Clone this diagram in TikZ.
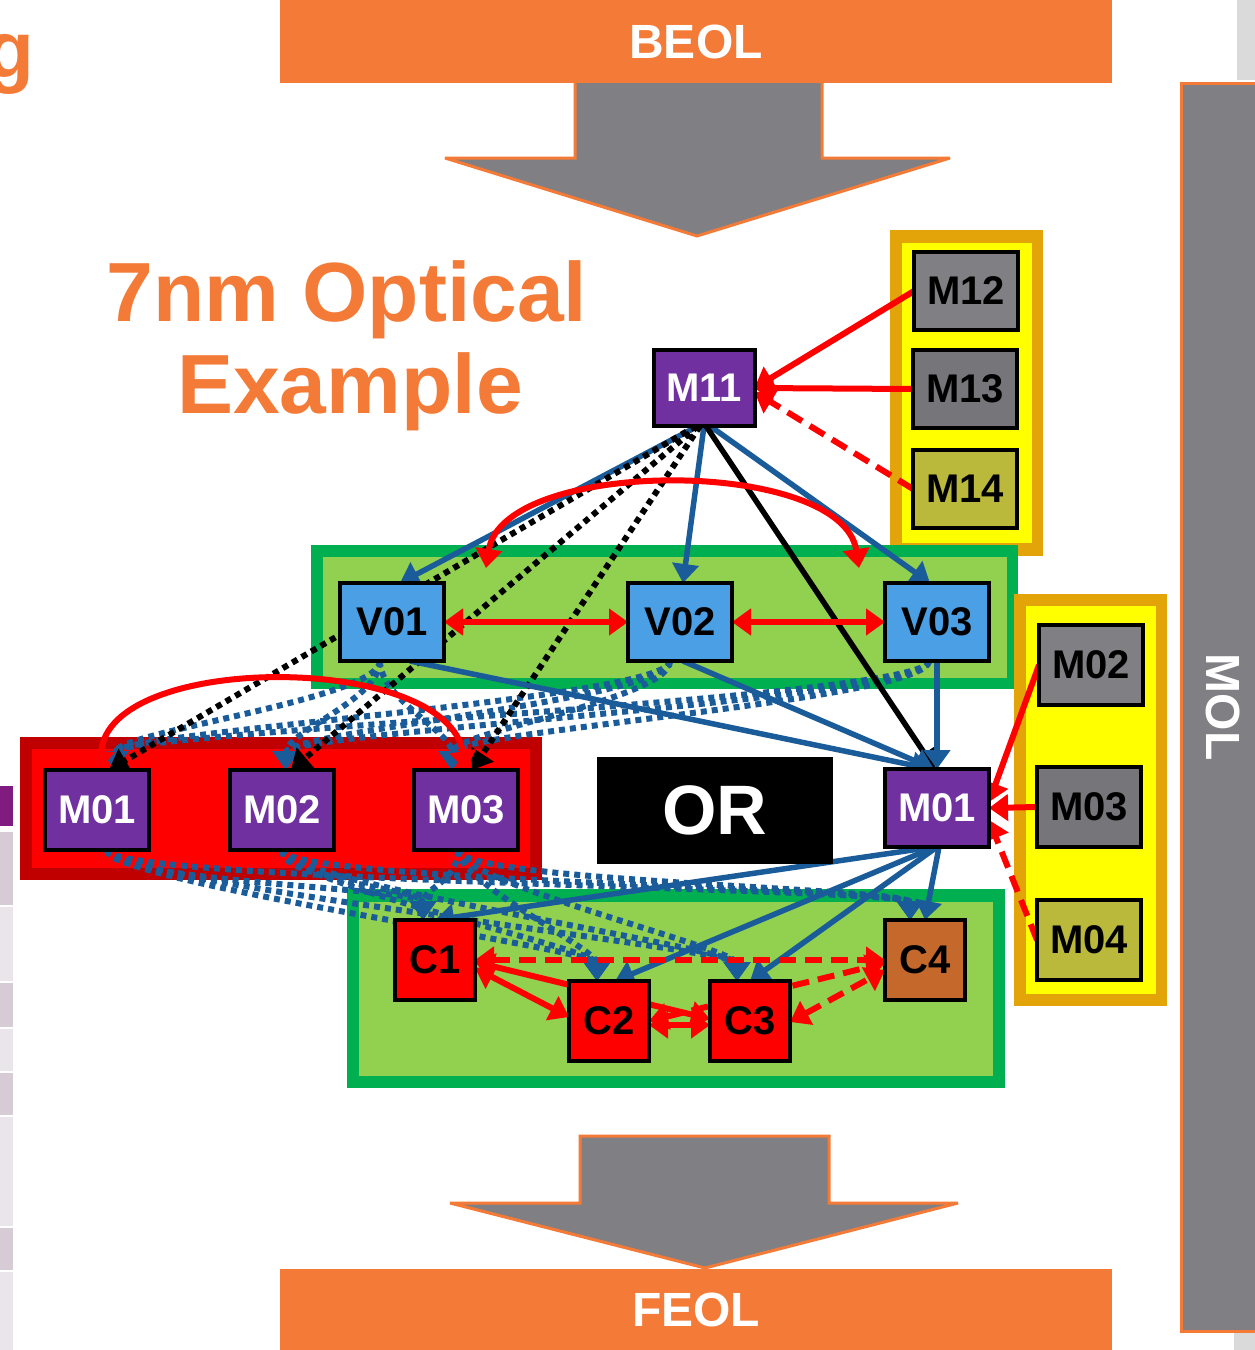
\documentclass[tikz,border=0pt]{standalone}
\usepackage{fontspec}
\usepackage{graphicx}
\setmainfont{Liberation Sans}
\usetikzlibrary{arrows.meta}
\definecolor{orng}{HTML}{F47B37}
\definecolor{arrgray}{HTML}{807F84}
\definecolor{purp}{HTML}{7030A0}
\definecolor{vblue}{HTML}{4A9FE5}
\definecolor{mgray}{HTML}{807F83}
\definecolor{mgrayd}{HTML}{76757A}
\definecolor{olive}{HTML}{BBB93B}
\definecolor{ylw}{HTML}{FFFF00}
\definecolor{gold}{HTML}{E3A40A}
\definecolor{gout}{HTML}{00B050}
\definecolor{gin}{HTML}{92D050}
\definecolor{rout}{HTML}{C00000}
\definecolor{rin}{HTML}{FF0000}
\definecolor{cbrown}{HTML}{C5682B}
\definecolor{lblue}{HTML}{1A5C99}
\definecolor{slidepurp}{HTML}{801C80}
\definecolor{celld}{HTML}{D7CCD6}
\definecolor{celll}{HTML}{EAE5EB}
\definecolor{edgegray}{HTML}{DADADA}
\pgfdeclarelayer{bg}\pgfdeclarelayer{fg}\pgfsetlayers{bg,main,fg}
\begin{document}
\begin{tikzpicture}[x=1pt,y=-1pt,
  >={Triangle[length=19pt,width=26pt]},
  lbl/.style={font=\fontsize{40}{40}\selectfont\bfseries, inner sep=0pt, outer sep=0pt},
  mbox/.style={lbl, draw=black, line width=4pt, minimum width=104pt, minimum height=78pt},
  cbox/.style={lbl, draw=black, line width=4pt, minimum width=80pt, minimum height=80pt},
  bartext/.style={font=\fontsize{48}{48}\selectfont\bfseries, text=white, inner sep=0pt},
  bigarrow/.style={draw=orng, line width=3pt, fill=arrgray, line join=miter, miter limit=4},
  blu/.style={draw=lblue, line width=5.5pt, ->},
  blkl/.style={draw=black, line width=5.5pt, ->},
  redl/.style={draw=rin, line width=6pt, ->},
  reddash/.style={draw=rin, line width=6pt, dash pattern=on 17pt off 9pt},
  bdot/.style={draw=lblue, line width=6pt, dash pattern=on 6pt off 5pt, ->},
  kdot/.style={draw=black, line width=6pt, dash pattern=on 6pt off 5pt, ->}]
\useasboundingbox (0,0) rectangle (1255,1350);

\begin{pgfonlayer}{bg}
  % cut-off slide parts at the edges
  \fill[slidepurp] (0,786) rectangle (13,826);
  \fill[celld] (0,832) rectangle (13,905);
  \fill[celll] (0,907) rectangle (13,981);
  \fill[celld] (0,983) rectangle (13,1027);
  \fill[celll] (0,1029) rectangle (13,1071);
  \fill[celld] (0,1073) rectangle (13,1115);
  \fill[celll] (0,1117) rectangle (13,1226);
  \fill[celld] (0,1228) rectangle (13,1270);
  \fill[celll] (0,1272) rectangle (13,1350);
  \fill[edgegray] (1237,0) rectangle (1255,80);
  \fill[edgegray] (1234,1333) rectangle (1255,1350);
  % MOL bar
  \draw[orng, line width=3pt, fill=arrgray] (1181.5,83.5) rectangle (1275,1331);
  \node[bartext, rotate=-90] (MOL) at (1223,707) {MOL};
  % big arrows
  \draw[bigarrow] (575,80) -- (822,80) -- (822,158) -- (950,158) -- (697,236) -- (445,158) -- (575,158) -- cycle;
  \draw[bigarrow] (580,1136) -- (829,1136) -- (829,1203) -- (958,1203) -- (705,1268) -- (450,1203) -- (580,1203) -- cycle;
  % bars
  \node[bartext, fill=orng, minimum width=832pt, minimum height=83pt] (BEOL) at (696,41.5) {BEOL};
  \node[bartext, fill=orng, minimum width=832pt, minimum height=82pt] (FEOL) at (696,1310) {FEOL};
  % containers
  \fill[gold] (890,230) rectangle (1043,556);
  \fill[ylw] (902,243) rectangle (1032,543);
  \fill[gout] (311,545) rectangle (1018,689);
  \fill[gin] (323,557) rectangle (1007,678);
  \fill[rout] (20,737) rectangle (542,880);
  \fill[rin] (32,749) rectangle (530,868);
  \fill[gold] (1014,594) rectangle (1167,1006);
  \fill[ylw] (1026,606) rectangle (1156,994);
  \fill[gout] (347,889) rectangle (1005,1088);
  \fill[gin] (359,902) rectangle (993,1076);
  % titles
  \node[text=orng, font=\fontsize{80}{80}\selectfont\bfseries, anchor=base east, inner sep=0pt] (gtxt) at (35,77) {g};
  \node[text=orng, font=\fontsize{84}{84}\selectfont\bfseries, anchor=base, inner sep=0pt] (T1) at (347,321) {7nm Optical};
  \node[text=orng, font=\fontsize{84}{84}\selectfont\bfseries, anchor=base, inner sep=0pt] (T2) at (350,413) {Example};
\end{pgfonlayer}

\begin{pgfonlayer}{fg}
  \node[mbox, fill=purp, text=white, minimum width=101pt, minimum height=76pt] (M11) at (704,388) {M11};
  \node[mbox, fill=mgray] (M12) at (966,291) {M12};
  \node[mbox, fill=mgrayd] (M13) at (965,389) {M13};
  \node[mbox, fill=olive] (M14) at (965,489) {M14};
  \node[mbox, fill=vblue] (V01) at (392,622) {V01};
  \node[mbox, fill=vblue] (V02) at (680,622) {V02};
  \node[mbox, fill=vblue] (V03) at (937,622) {V03};
  \node[mbox, fill=purp, text=white, minimum height=80pt] (M01l) at (97,810) {M01};
  \node[mbox, fill=purp, text=white, minimum height=80pt] (M02l) at (282,810) {M02};
  \node[mbox, fill=purp, text=white, minimum height=80pt] (M03l) at (466,810) {M03};
  \node[mbox, fill=purp, text=white] (M01r) at (937,808) {M01};
  \node[mbox, fill=mgray, minimum height=80pt] (M02r) at (1091,665) {M02};
  \node[mbox, fill=mgrayd, minimum height=80pt] (M03r) at (1089,807) {M03};
  \node[mbox, fill=olive, minimum height=80pt] (M04r) at (1089,940) {M04};
  \node[cbox, fill=rin] (C1) at (435,960) {C1};
  \node[cbox, fill=rin] (C2) at (609,1021) {C2};
  \node[cbox, fill=rin] (C3) at (750,1021) {C3};
  \node[cbox, fill=cbrown] (C4) at (925,960) {C4};
  \node[fill=black, text=white, minimum width=236pt, minimum height=107pt, inner sep=0pt,
        font=\fontsize{70}{70}\selectfont\bfseries] (OR) at (715,810.5) {OR};
\end{pgfonlayer}

% dotted blue V -> left M
\foreach \s/\a in {V01/-12,V02/-10,V03/-8}{
  \foreach \t/\b in {M01l/18,M02l/4,M03l/-14}{
    \draw[bdot] ([xshift=\a pt]\s.south) .. controls +(0,38) and +(0,-38) .. ([xshift=\b pt]\t.north);
  }}
% dotted blue left M -> C
\foreach \s/\a in {M01l/10,M02l/0,M03l/-8}{
  \foreach \t/\b in {C1/-12,C2/-12,C3/-13,C4/-15}{
    \draw[bdot] ([xshift=\a pt]\s.south) .. controls +(0,32) and +(0,-32) .. ([xshift=\b pt]\t.north);
  }}

% top group
\draw[redl] (M12.west) -- (M11.east);
\draw[redl] (M13.west) -- (M11.east);
\draw[reddash, ->] (M14.west) -- ([yshift=-4pt]M11.east);

% from M11
\draw[blu] ([xshift=-6pt]M11.south) -- ([xshift=8pt]V01.north);
\draw[blu] (M11.south) -- ([xshift=3pt]V02.north);
\draw[blu] ([xshift=6pt]M11.south) -- ([xshift=-7pt]V03.north);
\draw[blkl] ([xshift=2pt]M11.south) -- ([xshift=-2pt]M01r.north);
\draw[kdot] ([xshift=-8pt]M11.south) -- ([xshift=12pt]M01l.north);
\draw[kdot] ([xshift=-6pt]M11.south) -- ([xshift=9pt]M02l.north);
\draw[kdot] ([xshift=-4pt]M11.south) -- ([xshift=6pt]M03l.north);

% V row
\draw[redl, <->] ([shift={(42,-15)}]V01.north east) .. controls +(17,-111) and +(-17,-111) .. ([shift={(-26,-15)}]V03.north west);
\draw[redl, <->] (V01.east) -- (V02.west);
\draw[redl, <->] (V02.east) -- (V03.west);

% V -> M01 right
\draw[blu] ([xshift=18pt]V01.south) -- ([xshift=-6pt]M01r.north);
\draw[blu] ([xshift=3pt]V02.south) -- ([xshift=-3pt]M01r.north);
\draw[blu] (V03.south) -- (M01r.north);

% right group
\draw[redl] (M02r.west) -- ([yshift=6pt]M01r.east);
\draw[redl] (M03r.west) -- (M01r.east);
\draw[reddash, ->] (M04r.west) -- ([yshift=-12pt]M01r.east);

% M01 right -> C
\draw[blu] ([xshift=-4pt]M01r.south) -- (C1.north);
\draw[blu] ([xshift=-2pt]M01r.south) -- ([xshift=6pt]C2.north);
\draw[blu] (M01r.south) -- (C3.north);
\draw[blu] ([xshift=2pt]M01r.south) -- (C4.north);

% C row
\draw[redl, <->] ([yshift=-2pt]C1.east) -- ([yshift=2pt]C3.west);
\draw[redl, <->] ([yshift=-8pt]C1.east) -- ([yshift=4pt]C2.west);
\draw[redl, <->] ([yshift=-4pt]C2.east) -- ([yshift=-4pt]C3.west);
\draw[reddash, <->] (C1.east) -- (C4.west);
\draw[reddash, <->] (C2.east) -- ([yshift=-3pt]C4.west);
\draw[reddash, <->] ([yshift=-1pt]C3.east) -- ([yshift=-10pt]C4.west);

% left M arc
\draw[redl, <->] ([xshift=3pt]M01l.north) .. controls +(8,-118) and +(-20,-118) .. (M03l.north);
\end{tikzpicture}
\end{document}
